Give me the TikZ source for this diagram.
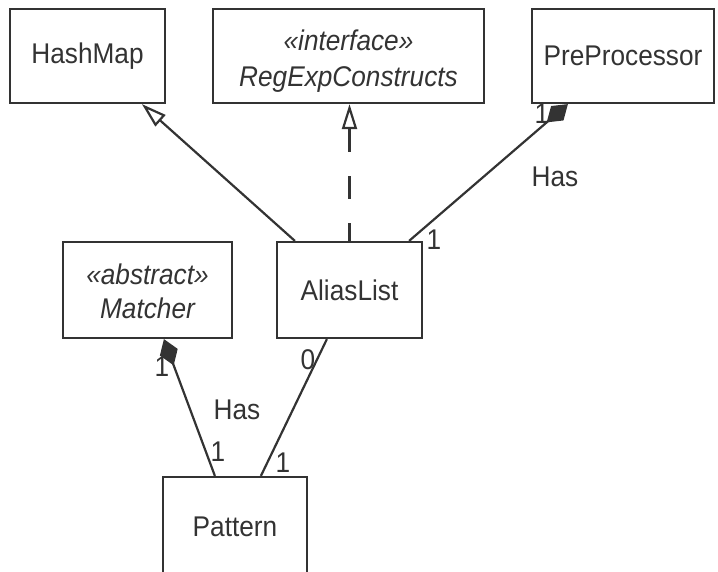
\documentclass[tikz,border=0pt]{standalone}
\usepackage{fontspec}
\setmainfont{Liberation Sans}[FakeStretch=0.92]
\usetikzlibrary{arrows.meta}
\definecolor{ink}{HTML}{333333}
\begin{document}
\begin{tikzpicture}[x=1pt,y=-1pt,
  cls/.style={draw=ink, line width=2.2pt, text=ink, align=center, inner sep=0pt, font=\fontsize{28.5}{35}\selectfont},
  lbl/.style={text=ink, inner sep=0pt, font=\fontsize{28.5}{30}\selectfont},
  conn/.style={draw=ink, line width=2.2pt},
  gen/.style={conn, -{Triangle[open, length=25pt, width=15pt, fill=white]}},
  comp/.style={conn, -{Diamond[length=28pt, width=19pt, fill=ink]}},
]
\useasboundingbox (0,0) rectangle (718,571);
\clip (0,0) rectangle (718,571);
\node[cls, minimum width=155pt, minimum height=94pt] (hashmap) at (87.5,56) {HashMap};
\node[cls, minimum width=271pt, minimum height=94pt, font=\fontsize{28.5}{36}\selectfont] (iface) at (348.5,56) {\rule{0pt}{31pt}\itshape «interface»\\\itshape RegExpConstructs};
\node[cls, minimum width=182pt, minimum height=94pt] (preproc) at (623,56) {PreProcessor};
\node[cls, minimum width=169pt, minimum height=96pt, font=\fontsize{28.5}{34}\selectfont] (matcher) at (147.5,290) {\rule{0pt}{24pt}\itshape «abstract»\\\itshape Matcher};
\node[cls, minimum width=145pt, minimum height=96pt] (alias) at (349.5,290) {AliasList};
\node[cls, minimum width=144pt, minimum height=100pt] (pattern) at (235,527) {Pattern};

\draw[gen] ([xshift=19pt]alias.north west) -- ([xshift=133pt]hashmap.south west);
\draw[gen, dash pattern=on 23pt off 24pt, dash phase=5pt] (alias.north) -- (alias.north |- iface.south);
\draw[comp] ([xshift=-14pt]alias.north east) -- ([xshift=37pt]preproc.south west);
\draw[comp] ([xshift=53pt]pattern.north west) -- ([xshift=102pt]matcher.south west);
\draw[conn] ([xshift=51pt]alias.south west) -- ([xshift=99pt]pattern.north west);

\node[lbl] (m1) at (542,114) {1};
\node[lbl] (has1) at (555,177) {Has};
\node[lbl] (m2) at (434,240) {1};
\node[lbl] (m3) at (162,367) {1};
\node[lbl] (has2) at (237,410) {Has};
\node[lbl] (m4) at (218,452) {1};
\node[lbl] (m5) at (283,463) {1};
\node[lbl] (m6) at (308,360) {0};
\end{tikzpicture}
\end{document}
